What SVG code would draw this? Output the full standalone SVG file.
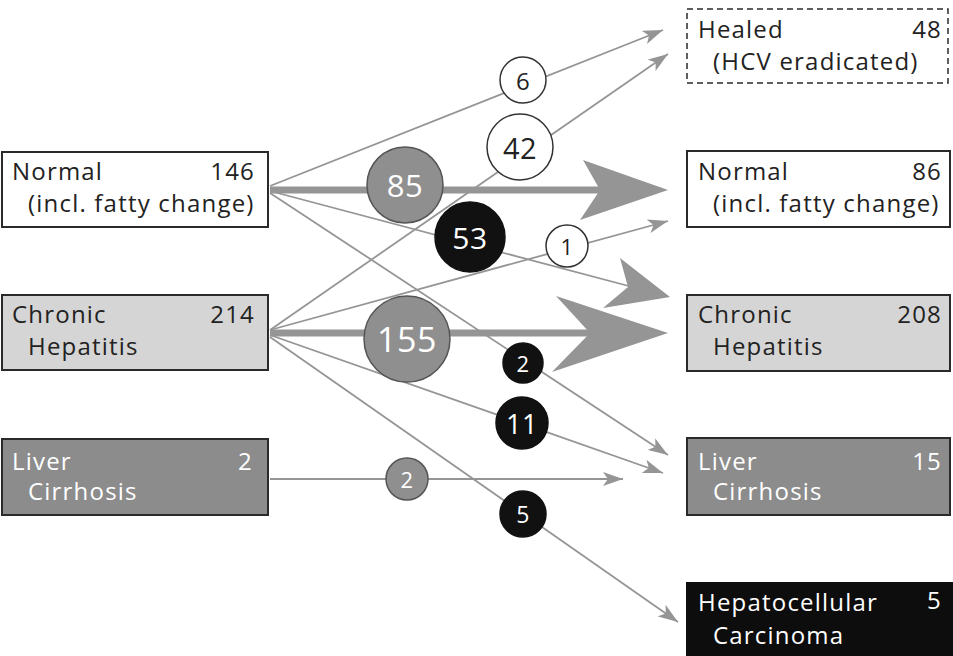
<svg xmlns="http://www.w3.org/2000/svg" width="953" height="656" viewBox="0 0 953 656">
<defs>
<style>
.box{stroke:#2a2a2a;stroke-width:2}
.t{font-family:"Open Sans","Noto Sans",sans-serif;font-size:24px;letter-spacing:1.2px}
.dk{fill:#222}
.wt{fill:#fff}
.ln{stroke:#959595;stroke-width:1.8;fill:none}
.thick{stroke:#959595;stroke-width:7;fill:none}
.ah{fill:#959595}
.cw{fill:#fff;stroke:#333;stroke-width:1.5}
.cg{fill:#8f8f8f;stroke:#555;stroke-width:1.5}
.cb{fill:#111;stroke:#111;stroke-width:1.5}
.ct{font-family:"Open Sans","Noto Sans",sans-serif;text-anchor:middle;dominant-baseline:central;letter-spacing:0.5px}
</style>
<marker id="arr" viewBox="0 0 20 14" refX="20" refY="7" markerWidth="20" markerHeight="14" markerUnits="userSpaceOnUse" orient="auto">
<path d="M0,0 L20,7 L0,14 L5,7 Z" fill="#959595"/>
</marker>
</defs>
<rect width="953" height="656" fill="#fff"/>

<g id="connectors">
<line class="ln" x1="270" y1="186" x2="663" y2="30" marker-end="url(#arr)"/>
<line class="ln" x1="270" y1="330" x2="668" y2="54" marker-end="url(#arr)"/>
<line class="thick" x1="270" y1="190" x2="600" y2="190"/>
<polygon class="ah" points="583,160 668,190 580,220 600,190"/>
<line class="ln" x1="270" y1="191" x2="640" y2="289"/>
<polygon class="ah" points="620,258 670,297 603,308 628,287"/>
<line class="ln" x1="270" y1="330" x2="668" y2="221" marker-end="url(#arr)"/>
<line class="thick" x1="270" y1="333" x2="590" y2="333"/>
<polygon class="ah" points="556,296 668,333 552,372 590,333"/>
<line class="ln" x1="270" y1="193" x2="668" y2="455" marker-end="url(#arr)"/>
<line class="ln" x1="270" y1="335" x2="663" y2="473" marker-end="url(#arr)"/>
<line class="ln" x1="270" y1="479" x2="623" y2="479" marker-end="url(#arr)"/>
<line class="ln" x1="270" y1="337" x2="678" y2="622" marker-end="url(#arr)"/>
</g>

<g id="node-normal-left">
<rect class="box" x="2" y="152" width="266" height="75" fill="#fff"/>
<text class="t dk" x="12" y="180">Normal</text>
<text class="t dk" x="255" y="180" text-anchor="end">146</text>
<text class="t dk" x="28" y="212">(incl. fatty change)</text>
</g>
<g id="node-chronic-left">
<rect class="box" x="2" y="295" width="266" height="75" fill="#d5d5d5"/>
<text class="t dk" x="12" y="323">Chronic</text>
<text class="t dk" x="255" y="323" text-anchor="end">214</text>
<text class="t dk" x="28" y="355">Hepatitis</text>
</g>
<g id="node-liver-left">
<rect class="box" x="2" y="439" width="266" height="76" fill="#8c8c8c"/>
<text class="t wt" x="12" y="470">Liver</text>
<text class="t wt" x="253" y="470" text-anchor="end">2</text>
<text class="t wt" x="28" y="500">Cirrhosis</text>
</g>

<g id="node-healed">
<rect x="687" y="9" width="261" height="74" fill="#fff" stroke="#2a2a2a" stroke-width="1.5" stroke-dasharray="6,4"/>
<text class="t dk" x="698" y="38">Healed</text>
<text class="t dk" x="942" y="38" text-anchor="end">48</text>
<text class="t dk" x="713" y="70">(HCV eradicated)</text>
</g>
<g id="node-normal-right">
<rect class="box" x="687" y="151" width="263" height="76" fill="#fff"/>
<text class="t dk" x="698" y="180">Normal</text>
<text class="t dk" x="942" y="180" text-anchor="end">86</text>
<text class="t dk" x="713" y="212">(incl. fatty change)</text>
</g>
<g id="node-chronic-right">
<rect class="box" x="687" y="295" width="263" height="76" fill="#d5d5d5"/>
<text class="t dk" x="698" y="323">Chronic</text>
<text class="t dk" x="942" y="323" text-anchor="end">208</text>
<text class="t dk" x="713" y="355">Hepatitis</text>
</g>
<g id="node-liver-right">
<rect class="box" x="687" y="438" width="263" height="77" fill="#8c8c8c"/>
<text class="t wt" x="698" y="470">Liver</text>
<text class="t wt" x="942" y="470" text-anchor="end">15</text>
<text class="t wt" x="713" y="500">Cirrhosis</text>
</g>
<g id="node-hcc">
<rect x="686" y="582" width="267" height="80" fill="#0d0d0d"/>
<text class="t wt" x="698" y="611">Hepatocellular</text>
<text class="t wt" x="942" y="609" text-anchor="end">5</text>
<text class="t wt" x="713" y="644">Carcinoma</text>
</g>

<g id="labels">
<circle class="cw" cx="523" cy="80" r="23"/><text class="ct dk" x="523" y="80" font-size="24">6</text>
<circle class="cw" cx="520" cy="147" r="33"/><text class="ct dk" x="520" y="147" font-size="29">42</text>
<circle class="cg" cx="405" cy="185" r="38"/><text class="ct wt" x="405" y="185" font-size="31">85</text>
<circle class="cb" cx="470" cy="237" r="35"/><text class="ct wt" x="470" y="237" font-size="30">53</text>
<circle class="cw" cx="567" cy="246" r="21"/><text class="ct dk" x="567" y="246" font-size="22">1</text>
<circle class="cg" cx="407" cy="339" r="43"/><text class="ct wt" x="407" y="339" font-size="34">155</text>
<circle class="cb" cx="523" cy="363" r="20"/><text class="ct wt" x="523" y="363" font-size="22">2</text>
<circle class="cb" cx="522" cy="423" r="26"/><text class="ct wt" x="522" y="423" font-size="27">11</text>
<circle class="cg" cx="407" cy="479" r="21"/><text class="ct wt" x="407" y="479" font-size="22">2</text>
<circle class="cb" cx="523" cy="514" r="23"/><text class="ct wt" x="523" y="514" font-size="23">5</text>
</g>
</svg>
